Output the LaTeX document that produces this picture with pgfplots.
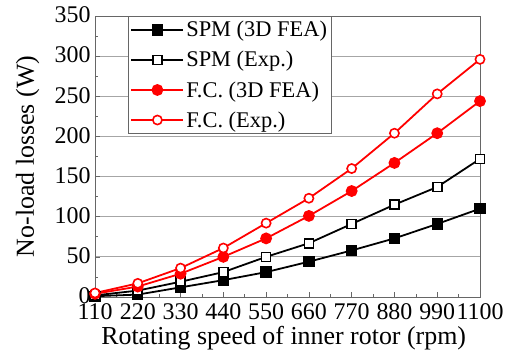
\documentclass[border=0pt]{standalone}
\usepackage{fontspec}
\setmainfont{Liberation Serif}
\usepackage{pgfplots}
\pgfplotsset{compat=1.18}
\begin{document}
\begin{tikzpicture}
\begin{axis}[
  name=main,
  scale only axis,
  width=385bp, height=281bp,
  xmin=110, xmax=1100, ymin=0, ymax=350,
  xtick={110,220,330,440,550,660,770,880,990,1100},
  ytick={0,50,100,150,200,250,300,350},
  minor x tick num=1, minor y tick num=1,
  tick align=inside, tick pos=left,
  major tick length=5bp, minor tick length=3bp,
  /pgf/number format/assume math mode=true,
  /pgf/number format/1000 sep={},
  ticklabel style={font=\fontsize{24}{26}\selectfont},
  xticklabel style={yshift=-3bp},
  yticklabel style={xshift=-1bp, yshift=1bp},
  ymajorgrids, grid style={gray!70, line width=0.8pt},
  axis line style={gray!80!black, line width=0.8pt},
  every tick/.style={gray!80!black, line width=0.6pt},
  xlabel={Rotating speed of inner rotor (rpm)},
  ylabel={No-load losses (W)},
  label style={font=\fontsize{26}{29}\selectfont},
  xlabel style={at={(axis description cs:0.49,-0.145)}, anchor=center},
  ylabel style={at={(axis description cs:-0.175,0.5)}, anchor=center},
  legend style={at={(axis description cs:0.086,1)}, anchor=north west,
    font=\fontsize{22.5}{24}\selectfont, draw=gray!80!black, line width=0.8pt,
    inner xsep=2bp, inner ysep=3bp, row sep=9bp, cells={anchor=west}},
  legend image code/.code={\draw[mark repeat=2,mark phase=2] plot coordinates {(0bp,0bp) (26bp,0bp) (52bp,0bp)};},
  clip=false,
]
\addplot[black, line width=1.8pt, mark=square*, mark size=4.8bp, mark options={solid, fill=black}]
 coordinates {(110,1) (220,3) (330,12) (440,21) (550,31) (660,44) (770,58) (880,73) (990,91) (1100,110)};
\addlegendentry{SPM (3D FEA)}
\addplot[black, line width=1.8pt, mark=square*, mark size=4.5bp, mark options={solid, fill=white, line width=1.6pt}]
 coordinates {(110,2) (220,8) (330,19) (440,31) (550,50) (660,67) (770,91) (880,115) (990,137) (1100,172)};
\addlegendentry{SPM (Exp.)}
\addplot[red, line width=1.8pt, mark=*, mark size=5bp, mark options={solid, fill=red}]
 coordinates {(110,4) (220,13) (330,29) (440,50) (550,73) (660,101) (770,132) (880,167) (990,204) (1100,244)};
\addlegendentry{F.C. (3D FEA)}
\addplot[red, line width=1.8pt, mark=*, mark size=4.6bp, mark options={solid, fill=white, line width=1.6pt}]
 coordinates {(110,5) (220,17) (330,36) (440,61) (550,92) (660,123) (770,160) (880,204) (990,253) (1100,296)};
\addlegendentry{F.C. (Exp.)}
\end{axis}
\pgfresetboundingbox
\path[use as bounding box] ([xshift=-95bp,yshift=-58bp]main.south west) rectangle ([xshift=32bp,yshift=16bp]main.north east);
\end{tikzpicture}
\end{document}
